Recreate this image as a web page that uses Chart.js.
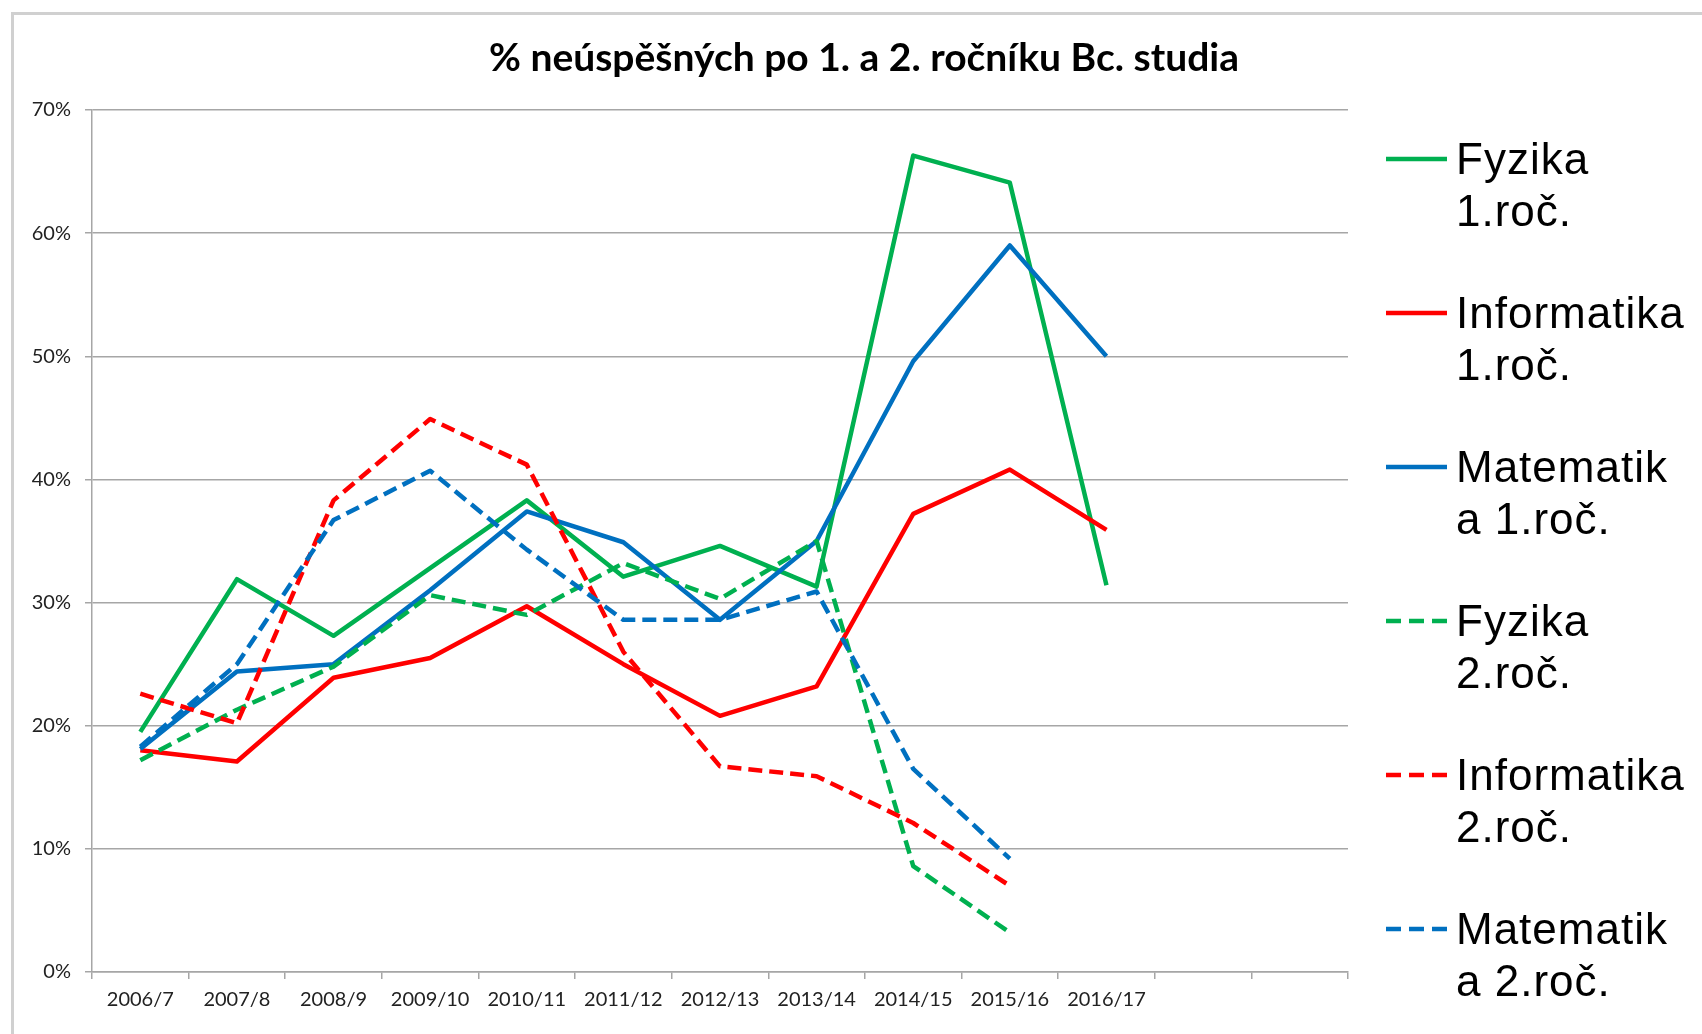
<!DOCTYPE html>
<html>
<head>
<meta charset="utf-8">
<script src="https://cdn.jsdelivr.net/npm/chart.js@4"></script>
<style>
  html, body { margin: 0; padding: 0; background: #fff; }
  #wrap { position: relative; width: 1702px; height: 1034px; overflow: hidden; }
  #frame { position: absolute; left: 11px; top: 12px; width: 1720px; height: 1060px;
           border-left: 3px solid #d0d0d0; border-top: 3px solid #d0d0d0; box-sizing: border-box; }
  #chart { position: absolute; left: 0; top: 0; }
  #title { position: absolute; left: 364px; width: 1000px; top: 32px; text-align: center;
           font-family: Lato, "Liberation Sans", sans-serif; font-weight: bold; font-size: 39px;
           line-height: 48px; color: #000; }
  #legend { position: absolute; left: 1385px; top: 0; font-family: "Liberation Sans", Arial, sans-serif;
            font-size: 44px; color: #000; }
  .item { position: absolute; left: 0; width: 320px; }
  .item svg { position: absolute; left: 0; }
  .item .txt { position: absolute; left: 71px; top: 0; line-height: 52px; white-space: nowrap; letter-spacing: 1px; }
</style>
</head>
<body>
<div id="wrap">
  <div id="frame"></div>
  <canvas id="chart" width="1702" height="1034"></canvas>
  <div id="title">% neúspěšných po 1. a 2. ročníku Bc. studia</div>
  <div id="legend"></div>
</div>
<script>
// school years, last two categories are empty in the original
const years = ['2006/7', '2007/8', '2008/9', '2009/10', '2010/11', '2011/12',
               '2012/13', '2013/14', '2014/15', '2015/16', '2016/17', '', ''];

// % failed students
const fyzika1 = [19.5, 31.9, 27.3, 32.8, 38.3, 32.1, 34.6, 31.3, 66.3, 64.1, 31.4];
const informatika1 = [18.0, 17.1, 23.9, 25.5, 29.7, 25.0, 20.8, 23.2, 37.2, 40.8, 35.9];
const matematika1 = [18.1, 24.4, 25.0, 31.0, 37.4, 34.9, 28.6, 35.0, 49.6, 59.0, 50.0];
const fyzika2 = [17.2, 21.3, 24.8, 30.6, 29.0, 33.2, 30.3, 35.0, 8.6, 3.2];
const informatika2 = [22.6, 20.2, 38.3, 44.9, 41.2, 26.0, 16.7, 15.9, 12.1, 7.0];
const matematika2 = [18.3, 25.0, 36.7, 40.7, 34.3, 28.6, 28.6, 30.9, 16.5, 9.2];

const seriesNames = ['Fyzika 1.roč.', 'Informatika 1.roč.', 'Matematika 1.roč.',
                     'Fyzika 2.roč.', 'Informatika 2.roč.', 'Matematika 2.roč.'];
// legend text wrapped like in the original
const legendLines = [['Fyzika', '1.roč.'], ['Informatika', '1.roč.'], ['Matematik', 'a 1.roč.'],
                     ['Fyzika', '2.roč.'], ['Informatika', '2.roč.'], ['Matematik', 'a 2.roč.']];

const GREEN = '#00B050', RED = '#FF0000', BLUE = '#0070C0';
const colors = [GREEN, RED, BLUE, GREEN, RED, BLUE];
const dashed = [false, false, false, true, true, true];
const values = [fyzika1, informatika1, matematika1, fyzika2, informatika2, matematika2];

const GRID = '#a6a6a6';
const tickFont = { family: 'Lato, "Liberation Sans", sans-serif', size: 20 };

const datasets = values.map((v, i) => ({
    label: seriesNames[i],
    data: v,
    borderColor: colors[i],
    backgroundColor: colors[i],
    borderWidth: 4.5,
    borderDash: dashed[i] ? [14, 7] : [],
    borderJoinStyle: 'round',
    pointRadius: 0,
    tension: 0,
    fill: false,
    order: values.length - i, // later series on top
}));

new Chart(document.getElementById('chart'), {
    type: 'line',
    data: { labels: years, datasets: datasets },
    options: {
        responsive: false,
        animation: false,
        layout: { padding: { left: 14, right: 354, top: 110, bottom: 0 } },
        plugins: {
            legend: { display: false },
            tooltip: { enabled: false },
            title: { display: false },
        },
        scales: {
            x: {
                offset: true,
                grid: { offset: true, drawOnChartArea: false, color: GRID, lineWidth: 1.5, tickLength: 7 },
                border: { color: GRID, width: 1.5 },
                ticks: { font: tickFont, color: '#222', padding: 9, maxRotation: 0, autoSkip: false },
                afterFit: (scale) => { scale.height = 62; },
            },
            y: {
                min: 0,
                max: 70,
                grid: { color: GRID, lineWidth: 1.5, tickLength: 7 },
                border: { color: GRID, width: 1.5 },
                ticks: { stepSize: 10, font: tickFont, color: '#222', padding: 14,
                         callback: (v) => v + '%' },
                afterFit: (scale) => { scale.width = 78; },
            },
        },
    },
});

// HTML legend on the right side
const legend = document.getElementById('legend');
datasets.forEach((ds, i) => {
    const item = document.createElement('div');
    item.className = 'item';
    item.style.top = (133 + i * 154) + 'px';
    const dash = dashed[i] ? 'stroke-dasharray="15 8"' : '';
    item.innerHTML =
        '<svg width="64" height="52"><line x1="1" y1="26" x2="62" y2="26" stroke="' + ds.borderColor +
        '" stroke-width="4.5" ' + dash + '/></svg>' +
        '<div class="txt">' + legendLines[i].join('<br>') + '</div>';
    legend.appendChild(item);
});
</script>
</body>
</html>
